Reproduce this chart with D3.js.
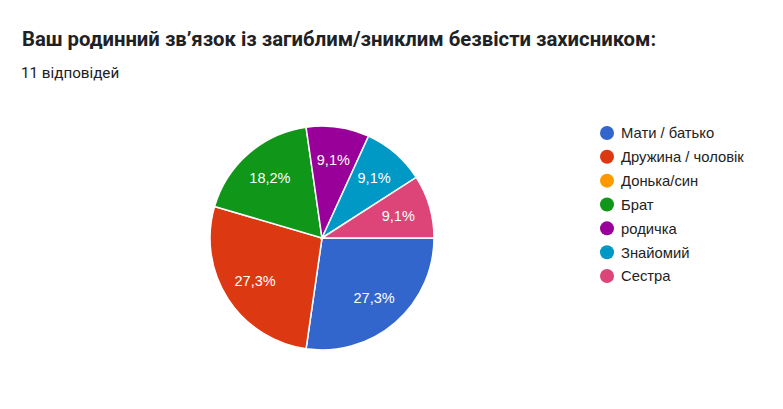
<!DOCTYPE html>
<html><head><meta charset="utf-8">
<script src="https://cdn.jsdelivr.net/npm/d3@7"></script>
<style>html,body{margin:0;padding:0;background:#fff;}svg{display:block;}</style>
</head><body>
<svg id="c" width="783" height="409"></svg>
<script>
const title = "Ваш родинний зв’язок із загиблим/зниклим безвісти захисником:";
const subtitle = "11 відповідей";
const categories = ["Мати / батько","Дружина / чоловік","Донька/син","Брат","родичка","Знайомий","Сестра"];
const counts = [3,3,0,2,1,1,1];
const colors = ["#3366cc","#dc3912","#ff9900","#109618","#990099","#0099c6","#dd4477"];

const svg = d3.select("#c");
svg.append("text").attr("x",22).attr("y",46)
  .attr("font-family","Roboto").attr("font-weight","bold").attr("font-size",20.3)
  .attr("fill","#202124").text(title);
svg.append("text").attr("x",21).attr("y",78)
  .attr("font-family","Roboto").attr("font-size",15.2)
  .attr("fill","#202124").text(subtitle);

const data = categories.map((c,i)=>({cat:c,v:counts[i],col:colors[i]}));
const total = d3.sum(counts);
const cx=322, cy=238, r=112;
const pie = d3.pie().value(d=>d.v).sort(null).startAngle(Math.PI/2).endAngle(Math.PI/2+2*Math.PI);
const arcs = pie(data).filter(d=>d.data.v>0);
const arc = d3.arc().innerRadius(0).outerRadius(r);
const labelArc = d3.arc().innerRadius(0).outerRadius(r*1.42);
const g = svg.append("g").attr("transform",`translate(${cx},${cy})`);
g.selectAll("path").data(arcs).join("path")
  .attr("d",arc).attr("fill",d=>d.data.col).attr("stroke","#fff").attr("stroke-width",1.5);
const fmt = v => (v/total*100).toFixed(1).replace(".",",")+"%";
g.selectAll("text").data(arcs).join("text")
  .attr("transform",d=>`translate(${labelArc.centroid(d)})`)
  .attr("text-anchor","middle").attr("dy","0.36em")
  .attr("font-family","Liberation Sans, Arial").attr("font-size",14.5)
  .attr("fill","#fff").text(d=>fmt(d.data.v));

const y = d3.scaleBand().domain(categories).range([121,288]);
const leg = svg.append("g");
const li = leg.selectAll("g").data(data).join("g")
  .attr("transform",d=>`translate(607,${y(d.cat)+y.bandwidth()/2})`);
li.append("circle").attr("r",7).attr("fill",d=>d.col);
li.append("text").attr("x",14).attr("dy","0.36em")
  .attr("font-family","Liberation Sans, Arial").attr("font-size",14.8)
  .attr("fill","#222").text(d=>d.cat);
</script>
</body></html>
